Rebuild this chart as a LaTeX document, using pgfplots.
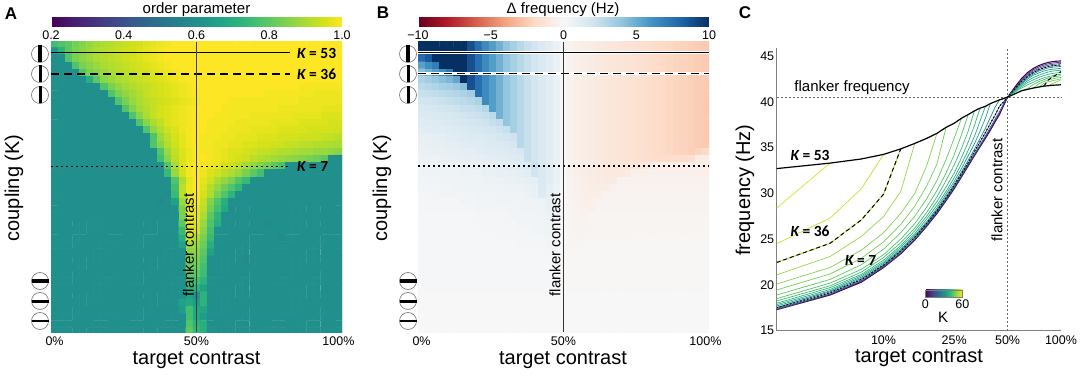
\documentclass[border=0pt]{standalone}
\usepackage{pgfplots}
\pgfplotsset{compat=1.18}
\usepackage{fontspec}
\setmainfont{Liberation Sans}
\newfontfamily\calib{Carlito}
\newcommand\fs[1]{\fontsize{#1}{#1}\selectfont}
\newcommand\kl[1]{{\calib\fs{15.5}\bfseries\itshape K\upshape~=~#1}}
\pgfplotsset{colormap={rdbu}{rgb255=(103,0,31) rgb255=(178,24,43) rgb255=(214,96,77) rgb255=(244,165,130) rgb255=(253,219,199) rgb255=(247,247,247) rgb255=(209,229,240) rgb255=(146,197,222) rgb255=(67,147,195) rgb255=(33,102,172) rgb255=(5,48,97)}}
\definecolor{k50}{RGB}{215,226,40}\definecolor{k44}{RGB}{198,224,40}\definecolor{k36}{RGB}{175,220,50}
\definecolor{k31}{RGB}{150,215,70}\definecolor{k27}{RGB}{130,210,80}\definecolor{k24}{RGB}{115,207,85}
\definecolor{k21}{RGB}{95,200,95}\definecolor{k18}{RGB}{75,195,105}\definecolor{k16}{RGB}{60,188,115}
\definecolor{k14}{RGB}{50,180,122}\definecolor{k12}{RGB}{40,170,130}\definecolor{k10}{RGB}{32,155,137}
\definecolor{k8}{RGB}{35,135,142}\definecolor{k6}{RGB}{45,110,142}\definecolor{k4}{RGB}{60,80,139}
\definecolor{k2}{RGB}{70,45,120}\definecolor{k0}{RGB}{68,1,84}
\pgfplotsset{heat/.style={scale only axis,width=291pt,height=290pt,
  xmin=-0.5,xmax=40.5,ymin=-0.25,ymax=40.1,y dir=reverse,anchor=south west,
  axis line style={draw=none},major tick length=0pt,xtick={0,20,40},xticklabels={0\%,50\%,100\%},ytick=\empty,
  xticklabel style={font=\fs{12.5},yshift=-1pt},clip=true,
  colorbar horizontal},
  table/tab/.style={row sep=\\,header=false,x expr={\coordindex-41*floor((\coordindex+0.5)/41)},y expr={floor((\coordindex+0.5)/41)},meta index=0},
  hm/.style={matrix plot*,mesh/cols=41,point meta=explicit}}
\begin{document}
\begin{tikzpicture}
\useasboundingbox (0,0) rectangle (1084pt,375pt);
%% ---------- panel A
\begin{axis}[heat,at={(51pt,43pt)},colormap/viridis,point meta min=20,point meta max=100,
  colorbar style={at={(0,1.052)},anchor=south west,scale only axis,width=291pt,height=9pt,xtick={20,40,60,80,100},xticklabels={0.2,0.4,0.6,0.8,1.0},
  xticklabel style={font=\fs{12.5},yshift=0pt},major tick length=0pt,axis line style={draw=none},xticklabel pos=lower}]
\addplot[hm] table[tab] {
76\\78\\80\\83\\85\\87\\89\\90\\91\\92\\ 93\\94\\95\\96\\97\\98\\99\\100\\100\\100\\ 100\\100\\100\\100\\100\\100\\100\\100\\100\\100\\ 100\\100\\100\\100\\100\\100\\100\\100\\100\\100\\ 100\\
62\\72\\80\\84\\86\\88\\90\\91\\92\\93\\ 94\\95\\96\\97\\98\\99\\100\\100\\100\\100\\ 100\\100\\100\\100\\100\\100\\100\\100\\100\\100\\ 100\\100\\100\\100\\100\\100\\100\\100\\100\\100\\ 100\\
60\\60\\78\\84\\86\\88\\90\\91\\92\\93\\ 94\\95\\96\\97\\98\\99\\100\\100\\100\\100\\ 100\\100\\100\\100\\100\\100\\100\\100\\100\\100\\ 100\\100\\100\\100\\100\\100\\100\\100\\100\\100\\ 100\\
60\\60\\60\\78\\84\\86\\88\\90\\91\\92\\ 93\\94\\95\\96\\97\\98\\99\\100\\100\\100\\ 100\\100\\100\\100\\100\\100\\100\\100\\100\\100\\ 100\\100\\100\\100\\100\\100\\100\\100\\100\\100\\ 100\\
60\\60\\60\\60\\78\\84\\86\\88\\90\\91\\ 92\\93\\94\\95\\96\\97\\98\\99\\100\\100\\ 100\\100\\100\\100\\100\\100\\100\\100\\100\\100\\ 100\\100\\100\\100\\100\\100\\100\\100\\100\\100\\ 100\\
60\\60\\60\\60\\60\\70\\80\\86\\88\\90\\ 91\\92\\93\\94\\95\\96\\97\\98\\99\\100\\ 100\\100\\100\\100\\100\\100\\100\\100\\100\\100\\ 100\\100\\100\\100\\100\\100\\100\\100\\100\\100\\ 100\\
60\\60\\60\\60\\60\\60\\60\\78\\84\\87\\ 89\\91\\92\\93\\94\\95\\96\\97\\98\\99\\ 100\\100\\100\\100\\100\\100\\100\\100\\100\\100\\ 100\\100\\100\\100\\100\\99\\99\\99\\99\\99\\ 99\\
60\\60\\60\\60\\60\\60\\60\\60\\78\\84\\ 87\\89\\91\\93\\94\\95\\96\\97\\98\\99\\ 100\\100\\100\\100\\100\\100\\100\\100\\100\\100\\ 99\\99\\99\\99\\99\\99\\99\\98\\98\\98\\ 98\\
60\\60\\60\\60\\60\\60\\60\\60\\60\\78\\ 84\\88\\90\\92\\93\\94\\95\\96\\97\\98\\ 99\\100\\100\\100\\100\\99\\99\\99\\99\\99\\ 99\\99\\99\\99\\99\\98\\98\\98\\98\\98\\ 98\\
60\\60\\60\\60\\60\\60\\60\\60\\60\\60\\ 78\\85\\89\\91\\93\\95\\96\\97\\98\\99\\ 100\\100\\100\\100\\99\\99\\99\\99\\99\\99\\ 99\\99\\98\\98\\98\\98\\98\\98\\97\\97\\ 97\\
60\\60\\60\\60\\60\\60\\60\\60\\60\\60\\ 60\\78\\86\\90\\93\\95\\96\\97\\98\\99\\ 100\\100\\100\\99\\99\\99\\99\\99\\98\\98\\ 98\\98\\98\\98\\97\\97\\97\\97\\96\\96\\ 96\\
60\\60\\60\\60\\60\\60\\60\\60\\60\\60\\ 60\\60\\78\\86\\90\\93\\96\\97\\98\\99\\ 100\\100\\99\\99\\99\\99\\98\\98\\98\\98\\ 98\\97\\97\\97\\97\\96\\96\\96\\96\\95\\ 95\\
60\\60\\60\\60\\60\\60\\60\\60\\60\\60\\ 60\\60\\60\\78\\87\\91\\94\\96\\98\\99\\ 100\\100\\99\\99\\99\\98\\98\\98\\97\\97\\ 97\\97\\96\\96\\96\\96\\95\\95\\95\\95\\ 94\\
60\\60\\60\\60\\60\\60\\60\\60\\60\\60\\ 60\\60\\60\\60\\78\\88\\92\\95\\97\\99\\ 100\\99\\99\\99\\98\\98\\97\\97\\97\\96\\ 96\\96\\95\\95\\95\\94\\94\\94\\93\\93\\ 92\\
60\\60\\60\\60\\60\\60\\60\\60\\60\\60\\ 60\\60\\60\\60\\78\\86\\91\\94\\97\\99\\ 100\\99\\99\\98\\98\\97\\97\\96\\96\\95\\ 95\\94\\94\\93\\93\\92\\92\\91\\91\\90\\ 90\\
60\\60\\60\\60\\60\\60\\60\\60\\60\\60\\ 60\\60\\60\\60\\60\\78\\88\\93\\96\\98\\ 100\\99\\99\\98\\97\\96\\96\\95\\94\\93\\ 93\\92\\91\\91\\90\\89\\89\\88\\88\\87\\ 86\\
60\\60\\60\\60\\60\\60\\60\\60\\60\\60\\ 60\\60\\60\\60\\60\\76\\86\\92\\96\\98\\ 100\\100\\99\\98\\97\\96\\95\\94\\92\\91\\ 90\\89\\88\\87\\86\\85\\84\\82\\80\\60\\ 60\\
60\\60\\60\\60\\60\\60\\60\\60\\60\\60\\ 60\\60\\60\\60\\60\\60\\78\\90\\96\\99\\ 100\\99\\98\\97\\95\\94\\92\\89\\87\\85\\ 83\\80\\77\\60\\60\\60\\60\\60\\60\\60\\ 60\\
60\\60\\60\\60\\60\\60\\60\\60\\60\\60\\ 60\\60\\60\\60\\60\\60\\74\\88\\95\\99\\ 100\\98\\96\\94\\92\\90\\88\\84\\80\\76\\ 60\\60\\60\\60\\60\\60\\60\\60\\60\\60\\ 60\\
60\\60\\60\\60\\60\\60\\60\\60\\60\\60\\ 60\\60\\60\\60\\60\\60\\60\\78\\90\\97\\ 100\\97\\94\\90\\87\\84\\78\\74\\60\\60\\ 60\\60\\60\\60\\60\\60\\60\\60\\60\\60\\ 60\\
60\\60\\60\\60\\60\\60\\60\\60\\60\\60\\ 60\\60\\60\\60\\60\\60\\60\\76\\92\\98\\ 100\\96\\91\\87\\82\\78\\73\\60\\60\\60\\ 60\\60\\60\\60\\60\\60\\60\\60\\60\\60\\ 60\\
60\\60\\60\\60\\60\\60\\60\\60\\60\\60\\ 60\\60\\60\\60\\60\\60\\59\\74\\92\\98\\ 100\\95\\90\\84\\78\\72\\60\\60\\60\\60\\ 60\\60\\60\\60\\60\\60\\60\\60\\60\\60\\ 60\\
60\\60\\60\\60\\60\\60\\60\\60\\60\\60\\ 60\\60\\60\\60\\60\\58\\60\\66\\88\\98\\ 99\\93\\85\\78\\70\\60\\60\\60\\60\\60\\ 60\\60\\60\\60\\60\\60\\60\\60\\60\\60\\ 60\\
60\\60\\60\\60\\60\\60\\60\\60\\60\\60\\ 60\\60\\60\\60\\60\\60\\60\\60\\84\\98\\ 98\\92\\83\\76\\68\\59\\60\\60\\60\\60\\ 60\\60\\60\\60\\60\\60\\60\\60\\60\\60\\ 60\\
60\\60\\60\\60\\60\\60\\60\\60\\60\\60\\ 60\\60\\60\\60\\60\\60\\60\\60\\84\\98\\ 97\\90\\80\\72\\60\\60\\60\\60\\60\\60\\ 60\\60\\60\\60\\60\\60\\60\\60\\60\\60\\ 60\\
60\\60\\60\\60\\60\\60\\60\\60\\60\\60\\ 60\\60\\60\\60\\60\\60\\60\\60\\80\\98\\ 96\\88\\78\\70\\60\\60\\60\\60\\60\\60\\ 58\\60\\60\\60\\60\\60\\60\\60\\60\\60\\ 60\\
60\\60\\60\\60\\60\\60\\60\\60\\60\\60\\ 60\\60\\60\\60\\60\\60\\60\\60\\74\\97\\ 95\\86\\76\\60\\60\\60\\60\\60\\60\\60\\ 60\\60\\60\\60\\60\\60\\60\\60\\60\\60\\ 60\\
60\\60\\60\\60\\60\\60\\60\\60\\60\\60\\ 60\\60\\60\\60\\60\\60\\60\\60\\70\\94\\ 90\\84\\74\\60\\60\\60\\60\\60\\60\\60\\ 60\\60\\58\\60\\60\\60\\60\\60\\60\\60\\ 60\\
60\\60\\60\\60\\60\\60\\60\\60\\60\\60\\ 60\\60\\60\\60\\60\\60\\60\\60\\66\\90\\ 88\\82\\70\\60\\60\\60\\60\\60\\60\\60\\ 60\\60\\60\\60\\60\\60\\60\\60\\60\\60\\ 60\\
60\\60\\60\\60\\60\\60\\60\\60\\60\\60\\ 60\\60\\60\\60\\60\\60\\60\\60\\60\\86\\ 86\\80\\66\\60\\60\\60\\60\\60\\60\\60\\ 60\\60\\60\\60\\60\\60\\60\\60\\60\\60\\ 60\\
60\\60\\60\\60\\60\\60\\60\\60\\60\\60\\ 60\\60\\60\\60\\60\\60\\60\\60\\60\\84\\ 84\\78\\60\\60\\60\\60\\60\\58\\60\\60\\ 60\\60\\60\\60\\60\\60\\60\\60\\60\\60\\ 60\\
60\\60\\60\\60\\60\\60\\60\\60\\60\\60\\ 60\\60\\60\\60\\60\\60\\60\\60\\60\\82\\ 82\\76\\60\\60\\60\\60\\60\\60\\60\\60\\ 60\\60\\60\\60\\60\\60\\60\\60\\60\\60\\ 60\\
60\\60\\60\\60\\60\\60\\60\\60\\60\\60\\ 60\\60\\60\\60\\60\\60\\60\\60\\60\\80\\ 80\\75\\60\\60\\60\\60\\60\\60\\60\\60\\ 60\\60\\60\\60\\60\\60\\60\\60\\60\\60\\ 60\\
60\\60\\60\\60\\60\\60\\60\\60\\60\\60\\ 60\\60\\60\\60\\60\\60\\60\\60\\60\\76\\ 76\\72\\60\\60\\60\\60\\60\\60\\60\\60\\ 60\\60\\60\\60\\60\\60\\60\\60\\60\\60\\ 60\\
60\\60\\60\\60\\60\\60\\60\\60\\60\\60\\ 60\\60\\60\\60\\60\\60\\60\\60\\60\\72\\ 72\\66\\60\\60\\60\\60\\60\\60\\60\\60\\ 60\\60\\60\\60\\60\\60\\60\\60\\60\\60\\ 60\\
60\\60\\60\\60\\60\\60\\60\\60\\60\\60\\ 60\\60\\60\\60\\60\\60\\60\\60\\60\\66\\ 60\\72\\60\\60\\60\\60\\60\\60\\60\\60\\ 60\\60\\60\\60\\60\\60\\60\\60\\60\\60\\ 60\\
60\\60\\60\\60\\60\\60\\60\\60\\60\\60\\ 60\\60\\60\\60\\60\\60\\60\\60\\66\\68\\ 64\\72\\60\\60\\60\\60\\60\\60\\60\\60\\ 60\\60\\60\\60\\60\\60\\60\\60\\60\\60\\ 60\\
60\\60\\60\\60\\60\\60\\60\\60\\60\\60\\ 60\\60\\60\\60\\60\\60\\60\\60\\64\\76\\ 68\\67\\60\\60\\60\\60\\60\\60\\60\\60\\ 60\\60\\60\\60\\60\\60\\60\\60\\60\\60\\ 60\\
60\\60\\60\\60\\60\\60\\60\\60\\60\\60\\ 60\\60\\60\\60\\60\\60\\60\\60\\60\\76\\ 68\\64\\60\\60\\60\\60\\60\\60\\60\\60\\ 60\\60\\60\\60\\60\\60\\60\\60\\60\\60\\ 60\\
60\\60\\60\\60\\60\\60\\60\\60\\60\\60\\ 60\\60\\60\\60\\60\\60\\60\\60\\60\\78\\ 72\\70\\60\\60\\60\\60\\60\\60\\60\\60\\ 60\\60\\60\\60\\60\\60\\60\\60\\60\\60\\ 60\\
60\\60\\60\\60\\60\\60\\60\\60\\60\\60\\ 60\\60\\60\\60\\60\\60\\60\\60\\60\\80\\ 74\\70\\60\\60\\60\\60\\60\\60\\60\\60\\ 60\\60\\60\\60\\60\\60\\60\\60\\60\\60\\ 60\\
};
\addplot[black,line width=1.4pt] coordinates {(-0.5,1.24)(33.2,1.24)};
\addplot[black,line width=1.3pt,dash pattern=on 8pt off 5pt] coordinates {(-0.5,4.2)(33.2,4.2)};
\addplot[black,line width=1.3pt,dash pattern=on 2pt off 3pt] coordinates {(-0.5,17.07)(33.2,17.07)};
\addplot[black!75,line width=0.9pt] coordinates {(20,-0.25)(20,40.1)};
\end{axis}
%% ---------- panel B
\begin{axis}[heat,at={(418pt,43pt)},colormap name=rdbu,point meta min=-100,point meta max=100,
  colorbar style={at={(0,1.052)},anchor=south west,scale only axis,width=291pt,height=9pt,xtick={-100,-50,0,50,100},xticklabels={−10,−5,0,5,10},
  xticklabel style={font=\fs{12.5},yshift=0pt},major tick length=0pt,axis line style={draw=none},xticklabel pos=lower}]
\addplot[hm] table[tab] {
100\\100\\100\\100\\100\\100\\100\\88\\76\\64\\ 56\\48\\40\\34\\28\\23\\19\\15\\11\\7\\ 2\\-4\\-6\\-7\\-8\\-10\\-11\\-12\\-13\\-14\\ -15\\-16\\-17\\-19\\-20\\-21\\-22\\-23\\-24\\-25\\ -26\\
100\\100\\100\\100\\100\\100\\100\\88\\76\\64\\ 56\\48\\40\\34\\28\\23\\19\\15\\11\\7\\ 2\\-4\\-6\\-7\\-8\\-10\\-11\\-12\\-13\\-14\\ -15\\-16\\-17\\-19\\-20\\-21\\-22\\-23\\-24\\-25\\ -26\\
78\\85\\100\\100\\100\\100\\100\\88\\76\\64\\ 56\\48\\40\\34\\28\\23\\19\\15\\11\\7\\ 0\\-4\\-6\\-7\\-8\\-10\\-11\\-12\\-13\\-14\\ -15\\-16\\-17\\-19\\-20\\-21\\-22\\-23\\-24\\-25\\ -26\\
55\\62\\70\\100\\100\\100\\100\\88\\76\\64\\ 56\\48\\40\\34\\28\\23\\19\\15\\11\\7\\ 0\\-4\\-6\\-7\\-8\\-10\\-11\\-12\\-13\\-14\\ -15\\-16\\-17\\-19\\-20\\-21\\-22\\-23\\-24\\-25\\ -26\\
42\\48\\55\\62\\72\\100\\100\\88\\76\\64\\ 56\\48\\40\\34\\28\\23\\19\\15\\11\\7\\ 0\\-4\\-6\\-7\\-8\\-10\\-11\\-12\\-13\\-14\\ -15\\-16\\-17\\-19\\-20\\-21\\-22\\-23\\-24\\-25\\ -26\\
32\\35\\38\\42\\46\\52\\100\\88\\76\\64\\ 56\\48\\40\\34\\28\\23\\19\\15\\11\\7\\ 0\\-4\\-6\\-7\\-8\\-10\\-11\\-12\\-13\\-14\\ -15\\-16\\-17\\-19\\-20\\-21\\-22\\-23\\-24\\-25\\ -26\\
27\\29\\31\\33\\35\\38\\42\\88\\76\\64\\ 56\\48\\40\\34\\28\\23\\19\\15\\11\\7\\ 0\\-4\\-6\\-7\\-8\\-10\\-11\\-12\\-13\\-14\\ -15\\-16\\-17\\-19\\-20\\-21\\-22\\-23\\-24\\-25\\ -26\\
23\\24\\25\\27\\28\\30\\32\\35\\76\\64\\ 56\\48\\40\\34\\28\\23\\19\\15\\11\\7\\ 0\\-4\\-6\\-7\\-8\\-10\\-11\\-12\\-13\\-14\\ -15\\-16\\-17\\-19\\-20\\-21\\-22\\-23\\-24\\-25\\ -26\\
19\\20\\21\\22\\24\\25\\27\\29\\32\\64\\ 56\\48\\40\\34\\28\\23\\19\\15\\11\\7\\ 0\\-4\\-6\\-7\\-8\\-10\\-11\\-12\\-13\\-14\\ -15\\-16\\-17\\-19\\-20\\-21\\-22\\-23\\-24\\-25\\ -26\\
16\\17\\18\\19\\20\\21\\23\\24\\26\\29\\ 56\\48\\40\\34\\28\\23\\19\\15\\11\\7\\ 0\\-4\\-6\\-7\\-8\\-10\\-11\\-12\\-13\\-14\\ -15\\-16\\-17\\-19\\-20\\-21\\-22\\-23\\-24\\-25\\ -26\\
14\\15\\15\\16\\17\\18\\19\\21\\22\\24\\ 27\\48\\40\\34\\28\\23\\19\\15\\11\\7\\ 0\\-4\\-6\\-7\\-8\\-10\\-11\\-12\\-13\\-14\\ -15\\-16\\-17\\-19\\-20\\-21\\-22\\-23\\-24\\-25\\ -26\\
12\\13\\13\\14\\15\\16\\17\\18\\19\\21\\ 23\\25\\40\\34\\28\\23\\19\\15\\11\\7\\ 0\\-4\\-6\\-7\\-8\\-10\\-11\\-12\\-13\\-14\\ -15\\-16\\-17\\-19\\-20\\-21\\-22\\-23\\-24\\-25\\ -26\\
11\\11\\12\\12\\13\\14\\15\\16\\17\\18\\ 19\\21\\23\\34\\28\\23\\19\\15\\11\\7\\ 0\\-4\\-6\\-7\\-8\\-10\\-11\\-12\\-13\\-14\\ -15\\-16\\-17\\-19\\-20\\-21\\-22\\-23\\-24\\-25\\ -26\\
9\\9\\10\\10\\11\\12\\13\\14\\14\\15\\ 16\\18\\19\\21\\28\\23\\19\\15\\11\\7\\ 0\\-4\\-6\\-7\\-8\\-10\\-11\\-12\\-13\\-14\\ -15\\-16\\-17\\-19\\-20\\-21\\-22\\-23\\-24\\-25\\ -26\\
8\\8\\9\\9\\10\\10\\11\\12\\12\\13\\ 14\\15\\16\\18\\28\\23\\19\\15\\11\\7\\ 0\\-4\\-6\\-7\\-8\\-10\\-11\\-12\\-13\\-14\\ -15\\-16\\-17\\-19\\-20\\-21\\-22\\-23\\-24\\-25\\ -26\\
7\\7\\8\\8\\9\\9\\10\\10\\11\\12\\ 12\\13\\14\\15\\17\\23\\19\\15\\11\\7\\ 0\\-4\\-6\\-7\\-8\\-10\\-11\\-12\\-13\\-14\\ -15\\-16\\-17\\-19\\-20\\-21\\-22\\-23\\-24\\-22\\ -20\\
6\\6\\6\\7\\7\\8\\8\\9\\9\\10\\ 11\\11\\12\\13\\14\\23\\19\\15\\11\\7\\ 0\\-4\\-6\\-7\\-8\\-10\\-11\\-12\\-13\\-14\\ -15\\-16\\-17\\-18\\-18\\-18\\-18\\-18\\-17\\-7\\ -7\\
5\\5\\5\\6\\6\\6\\7\\7\\8\\8\\ 9\\9\\10\\11\\12\\13\\22\\15\\11\\7\\ 0\\-4\\-6\\-7\\-8\\-10\\-11\\-12\\-12\\-12\\ -12\\-11\\-10\\-6\\-6\\-6\\-6\\-6\\-6\\-6\\ -6\\
4\\4\\4\\5\\5\\5\\6\\6\\6\\7\\ 7\\8\\8\\9\\10\\11\\20\\15\\11\\7\\ 0\\-4\\-6\\-7\\-8\\-9\\-10\\-10\\-10\\-9\\ -5\\-5\\-5\\-5\\-5\\-5\\-5\\-5\\-5\\-5\\ -5\\
3\\3\\3\\4\\4\\4\\5\\5\\5\\6\\ 6\\6\\7\\7\\8\\9\\10\\15\\11\\7\\ 0\\-3\\-5\\-6\\-7\\-8\\-9\\-8\\-4\\-4\\ -4\\-4\\-4\\-4\\-4\\-4\\-4\\-4\\-4\\-4\\ -4\\
3\\3\\3\\3\\3\\4\\4\\4\\4\\5\\ 5\\5\\6\\6\\6\\7\\8\\14\\10\\6\\ 0\\-3\\-5\\-6\\-7\\-7\\-7\\-4\\-4\\-4\\ -4\\-4\\-4\\-4\\-4\\-4\\-4\\-4\\-4\\-4\\ -4\\
2\\2\\2\\3\\3\\3\\3\\3\\4\\4\\ 4\\4\\5\\5\\5\\6\\7\\13\\9\\5\\ 0\\-3\\-4\\-6\\-6\\-6\\-3\\-3\\-3\\-3\\ -3\\-3\\-3\\-3\\-3\\-3\\-3\\-3\\-3\\-3\\ -3\\
2\\2\\2\\2\\2\\2\\3\\3\\3\\3\\ 3\\4\\4\\4\\4\\5\\5\\6\\8\\5\\ 0\\-3\\-4\\-5\\-5\\-3\\-3\\-3\\-3\\-3\\ -3\\-3\\-3\\-3\\-3\\-3\\-3\\-3\\-3\\-3\\ -3\\
2\\2\\2\\2\\2\\2\\2\\2\\3\\3\\ 3\\3\\3\\3\\4\\4\\4\\5\\7\\4\\ 0\\-2\\-3\\-4\\-5\\-3\\-3\\-3\\-3\\-3\\ -3\\-3\\-3\\-3\\-3\\-3\\-3\\-3\\-3\\-3\\ -3\\
1\\1\\1\\1\\1\\1\\1\\1\\2\\2\\ 2\\2\\2\\3\\3\\3\\3\\4\\6\\3\\ 0\\-2\\-3\\-4\\-2\\-2\\-2\\-2\\-2\\-2\\ -2\\-2\\-2\\-2\\-2\\-2\\-2\\-2\\-2\\-2\\ -2\\
1\\1\\1\\1\\1\\1\\1\\1\\1\\2\\ 2\\2\\2\\2\\3\\3\\3\\3\\5\\3\\ 0\\-2\\-3\\-3\\-2\\-2\\-2\\-2\\-2\\-2\\ -2\\-2\\-2\\-2\\-2\\-2\\-2\\-2\\-2\\-2\\ -2\\
1\\1\\1\\1\\1\\1\\1\\1\\1\\1\\ 2\\2\\2\\2\\2\\2\\3\\3\\4\\2\\ 0\\-2\\-3\\-2\\-2\\-2\\-2\\-2\\-2\\-2\\ -2\\-2\\-2\\-2\\-2\\-2\\-2\\-2\\-2\\-2\\ -2\\
1\\1\\1\\1\\1\\1\\1\\1\\1\\1\\ 1\\1\\2\\2\\2\\2\\2\\2\\3\\2\\ 0\\-2\\-2\\-2\\-2\\-2\\-2\\-2\\-2\\-2\\ -1\\-1\\-1\\-1\\-1\\-1\\-1\\-1\\-1\\-1\\ -1\\
1\\1\\1\\1\\1\\1\\1\\1\\1\\1\\ 1\\1\\1\\1\\2\\2\\2\\2\\3\\2\\ 0\\-2\\-2\\-1\\-1\\-1\\-1\\-1\\-1\\-1\\ -1\\-1\\-1\\-1\\-1\\-1\\-1\\-1\\-1\\-1\\ -1\\
1\\1\\1\\1\\1\\1\\1\\1\\1\\1\\ 1\\1\\1\\1\\1\\1\\1\\1\\2\\2\\ 0\\-1\\-1\\-1\\-1\\-1\\-1\\-1\\-1\\-1\\ -1\\-1\\-1\\-1\\-1\\-1\\-1\\-1\\-1\\-1\\ -1\\
1\\1\\1\\1\\1\\1\\1\\1\\1\\1\\ 1\\1\\1\\1\\1\\1\\1\\1\\1\\2\\ 0\\-1\\-1\\-1\\-1\\-1\\-1\\-1\\-1\\-1\\ -1\\-1\\-1\\-1\\-1\\-1\\-1\\-1\\-1\\-1\\ -1\\
1\\1\\1\\1\\1\\1\\1\\1\\1\\1\\ 1\\1\\1\\1\\1\\1\\1\\1\\1\\1\\ 0\\-1\\-1\\-1\\-1\\-1\\-1\\-1\\-1\\-1\\ -1\\-1\\-1\\-1\\-1\\-1\\-1\\-1\\-1\\-1\\ -1\\
1\\1\\1\\1\\1\\1\\1\\1\\1\\1\\ 1\\1\\1\\1\\1\\1\\1\\1\\1\\1\\ 0\\-1\\-1\\-1\\-1\\-1\\-1\\-1\\-1\\-1\\ -1\\-1\\-1\\-1\\-1\\-1\\-1\\-1\\-1\\-1\\ -1\\
1\\1\\1\\1\\1\\1\\1\\1\\1\\1\\ 1\\1\\1\\1\\1\\1\\1\\1\\1\\1\\ 0\\-1\\-1\\-1\\-1\\-1\\-1\\-1\\-1\\-1\\ -1\\-1\\-1\\-1\\-1\\-1\\-1\\-1\\-1\\-1\\ -1\\
1\\1\\1\\1\\1\\1\\1\\1\\1\\1\\ 1\\1\\1\\1\\1\\1\\1\\1\\1\\1\\ 0\\-1\\-1\\-1\\-1\\-1\\-1\\-1\\-1\\-1\\ -1\\-1\\-1\\-1\\-1\\-1\\-1\\-1\\-1\\-1\\ -1\\
0\\0\\0\\0\\0\\0\\0\\0\\0\\0\\ 0\\0\\0\\0\\0\\0\\0\\0\\0\\0\\ 0\\0\\0\\0\\0\\0\\0\\0\\0\\0\\ 0\\0\\0\\0\\0\\0\\0\\0\\0\\0\\ 0\\
0\\0\\0\\0\\0\\0\\0\\0\\0\\0\\ 0\\0\\0\\0\\0\\0\\0\\0\\0\\0\\ 0\\0\\0\\0\\0\\0\\0\\0\\0\\0\\ 0\\0\\0\\0\\0\\0\\0\\0\\0\\0\\ 0\\
0\\0\\0\\0\\0\\0\\0\\0\\0\\0\\ 0\\0\\0\\0\\0\\0\\0\\0\\0\\0\\ 0\\0\\0\\0\\0\\0\\0\\0\\0\\0\\ 0\\0\\0\\0\\0\\0\\0\\0\\0\\0\\ 0\\
0\\0\\0\\0\\0\\0\\0\\0\\0\\0\\ 0\\0\\0\\0\\0\\0\\0\\0\\0\\0\\ 0\\0\\0\\0\\0\\0\\0\\0\\0\\0\\ 0\\0\\0\\0\\0\\0\\0\\0\\0\\0\\ 0\\
0\\0\\0\\0\\0\\0\\0\\0\\0\\0\\ 0\\0\\0\\0\\0\\0\\0\\0\\0\\0\\ 0\\0\\0\\0\\0\\0\\0\\0\\0\\0\\ 0\\0\\0\\0\\0\\0\\0\\0\\0\\0\\ 0\\
0\\0\\0\\0\\0\\0\\0\\0\\0\\0\\ 0\\0\\0\\0\\0\\0\\0\\0\\0\\0\\ 0\\0\\0\\0\\0\\0\\0\\0\\0\\0\\ 0\\0\\0\\0\\0\\0\\0\\0\\0\\0\\ 0\\
0\\0\\0\\0\\0\\0\\0\\0\\0\\0\\ 0\\0\\0\\0\\0\\0\\0\\0\\0\\0\\ 0\\0\\0\\0\\0\\0\\0\\0\\0\\0\\ 0\\0\\0\\0\\0\\0\\0\\0\\0\\0\\ 0\\
};
\addplot[white,line width=2.6pt] coordinates {(-0.5,1.21)(40.5,1.21)};
\addplot[black,line width=1.4pt] coordinates {(-0.5,1.21)(40.5,1.21)};
\addplot[white,line width=2.6pt] coordinates {(-0.5,4.1)(40.5,4.1)};
\addplot[black,line width=1.3pt,dash pattern=on 8pt off 5pt] coordinates {(-0.5,4.1)(40.5,4.1)};
\addplot[white,line width=2.4pt,dash pattern=on 2pt off 3pt] coordinates {(-0.5,17)(40.5,17)};
\addplot[black,line width=1.3pt,dash pattern=on 2pt off 3pt] coordinates {(-0.5,17)(40.5,17)};
\addplot[black!80,line width=0.9pt] coordinates {(20,-0.25)(20,40.1)};
\end{axis}
%% ---------- panel C
\begin{axis}[scale only axis,at={(776.7pt,44.3pt)},anchor=south west,width=284.3pt,height=283pt,
  xmode=log,xmin=2.5,xmax=100,ymin=15,ymax=45.9,axis x line=bottom,axis y line=left,
  axis line style={-,draw=black!50,line width=0.8pt},major tick length=0pt,minor tick length=0pt,minor tick num=0,clip=false,
  xtick={10,25,50,100},xticklabels={10\%,25\%,50\%,100\%},ytick={15,20,25,30,35,40,45},yticklabels={15,20,25,30,35,40,45},
  xticklabel style={font=\fs{12.5},yshift=-2pt},yticklabel style={font=\fs{12.5},xshift=1pt},
  colormap/viridis,point meta min=0,point meta max=60,colorbar horizontal,
  colorbar style={at={(0.5227,0.118)},anchor=south west,scale only axis,width=37pt,height=7.5pt,xtick={0,60},xticklabels={0,60},
  xticklabel style={font=\fs{12.5},yshift=1pt},major tick length=0pt,axis line style={draw=black!50,line width=0.6pt},xticklabel pos=lower}]
\addplot[black!60,line width=0.8pt,dash pattern=on 2pt off 2pt] coordinates {(2.5,40.5)(100,40.5)};
\addplot[black!60,line width=0.8pt,dash pattern=on 2pt off 2pt] coordinates {(50,15)(50,45.9)};
\addplot[k0,line width=1.1pt] coordinates {(2.5,17.3)(5,18.9)(7.5,20.3)(10,21.9)(12.5,23.4)(15,24.9)(17.5,26.4)(20,27.8)(22.5,29.2)(25,30.5)(27.5,31.8)(30,33)(32.5,34.1)(35,35.1)(37.5,36)(40,36.9)(42.5,37.8)(45,38.6)(47.5,39.6)(50,40.5)(55,41.6)(60,42.55)(65,43.2)(70,43.65)(75,43.95)(80,44.15)(85,44.3)(90,44.38)(95,44.43)(100,44.45)};
\addplot[k2,line width=0.7pt] coordinates {(2.5,17.32)(5,18.95)(7.5,20.38)(10,21.95)(12.5,23.45)(15,24.95)(17.5,26.45)(20,27.9)(22.5,29.25)(25,30.55)(27.5,31.85)(30,33.05)(32.5,34.15)(35,35.15)(37.5,36.1)(40,37)(42.5,37.9)(45,38.7)(47.5,39.7)(50,40.5)(55,41.5)(60,42.4)(65,43.05)(70,43.5)(75,43.8)(80,44)(85,44.15)(90,44.22)(95,44.28)(100,44.32)};
\addplot[k4,line width=0.7pt] coordinates {(2.5,17.35)(5,19)(7.5,20.45)(10,22)(12.5,23.5)(15,25)(17.5,26.5)(20,27.95)(22.5,29.35)(25,30.65)(27.5,31.95)(30,33.15)(32.5,34.25)(35,35.3)(37.5,36.25)(40,37.2)(42.5,38.1)(45,38.9)(47.5,39.8)(50,40.5)(55,41.45)(60,42.3)(65,42.95)(70,43.35)(75,43.65)(80,43.85)(85,44)(90,44.08)(95,44.13)(100,44.18)};
\addplot[k6,line width=0.7pt] coordinates {(2.5,17.45)(5,19.1)(7.5,20.55)(10,22.1)(12.5,23.65)(15,25.15)(17.5,26.65)(20,28.05)(22.5,29.45)(25,30.8)(27.5,32.1)(30,33.3)(32.5,34.5)(35,35.6)(37.5,36.6)(40,37.6)(42.5,38.5)(45,39.5)(47.5,40)(50,40.5)(55,41.4)(60,42.2)(65,42.8)(70,43.2)(75,43.5)(80,43.7)(85,43.85)(90,43.93)(95,43.98)(100,44.02)};
\addplot[k8,line width=0.7pt] coordinates {(2.5,17.55)(5,19.25)(7.5,20.7)(10,22.2)(12.5,23.75)(15,25.25)(17.5,26.75)(20,28.2)(22.5,29.65)(25,31)(27.5,32.35)(30,33.6)(32.5,34.8)(35,36)(37.5,37.1)(40,38.3)(42.5,39.4)(45,40.2)(50,40.5)(55,41.3)(60,42.05)(65,42.65)(70,43.05)(75,43.35)(80,43.55)(85,43.7)(90,43.77)(95,43.82)(100,43.85)};
\addplot[k10,line width=0.7pt] coordinates {(2.5,17.7)(5,19.35)(7.5,20.85)(10,22.35)(12.5,23.9)(15,25.4)(17.5,26.9)(20,28.4)(22.5,29.9)(25,31.3)(27.5,32.7)(30,34.1)(32.5,35.4)(35,36.8)(37.5,38.2)(40,39.8)};
\addplot[k10,line width=0.7pt] coordinates {(50,40.5)(55,41.25)(60,41.95)(65,42.5)(70,42.9)(75,43.15)(80,43.35)(85,43.48)(90,43.55)(95,43.6)(100,43.65)};
\addplot[k12,line width=0.7pt] coordinates {(2.5,17.85)(5,19.5)(7.5,21)(10,22.5)(12.5,24.1)(15,25.6)(17.5,27.2)(20,28.7)(22.5,30.2)(25,31.7)(27.5,33.2)(30,34.7)(32.5,36.2)(35,37.9)(37.5,39.5)};
\addplot[k12,line width=0.7pt] coordinates {(50,40.5)(55,41.2)(60,41.8)(65,42.3)(70,42.65)(75,42.9)(80,43.1)(85,43.25)(90,43.35)(95,43.4)(100,43.45)};
\addplot[k14,line width=0.7pt] coordinates {(2.5,18)(5,19.7)(7.5,21.15)(10,22.7)(12.5,24.3)(15,25.9)(17.5,27.5)(20,29.1)(22.5,30.7)(25,32.2)(27.5,33.9)(30,35.6)(32.5,37.4)(35,39.3)};
\addplot[k14,line width=0.7pt] coordinates {(50,40.5)(55,41.1)(60,41.65)(65,42.1)(70,42.4)(75,42.65)(80,42.85)(85,43)(90,43.1)(95,43.15)(100,43.2)};
\addplot[k16,line width=0.7pt] coordinates {(2.5,18.25)(5,19.9)(7.5,21.4)(10,23)(12.5,24.6)(15,26.2)(17.5,27.9)(20,29.6)(22.5,31.4)(25,33.1)(27.5,34.9)(30,36.8)(32.5,39)};
\addplot[k16,line width=0.7pt] coordinates {(50,40.5)(55,41.05)(60,41.5)(65,41.85)(70,42.15)(75,42.4)(80,42.6)(85,42.75)(90,42.85)(95,42.95)(100,43)};
\addplot[k18,line width=0.7pt] coordinates {(2.5,18.5)(5,20.2)(7.5,21.7)(10,23.3)(12.5,25)(15,26.7)(17.5,28.5)(20,30.3)(22.5,32.2)(25,34.2)(27.5,36.4)(30,38.6)};
\addplot[k18,line width=0.7pt] coordinates {(60,41.2)(65,41.45)(70,41.9)(75,42.2)(80,42.4)(85,42.6)(90,42.7)(95,42.78)(100,42.85)};
\addplot[k21,line width=0.7pt] coordinates {(2.5,18.9)(5,20.6)(7.5,22.2)(10,23.9)(12.5,25.7)(15,27.5)(17.5,29.4)(20,31.4)(22.5,33.7)(25,36)(27.5,38.2)};
\addplot[k21,line width=0.7pt] coordinates {(70,41.5)(75,41.95)(80,42.2)(85,42.4)(90,42.5)(95,42.6)(100,42.65)};
\addplot[k24,line width=0.7pt] coordinates {(2.5,19.45)(5,21.2)(7.5,22.9)(10,24.7)(12.5,26.6)(15,28.6)(17.5,30.8)(20,33.2)(22.5,37.2)};
\addplot[k24,line width=0.7pt] coordinates {(75,41.6)(80,42)(85,42.2)(90,42.3)(95,42.4)(100,42.5)};
\addplot[k27,line width=0.7pt] coordinates {(2.5,20.1)(5,21.9)(7.5,23.8)(10,25.7)(12.5,27.8)(15,30)(17.5,33)(20,36.55)};
\addplot[k27,line width=0.7pt] coordinates {(85,41.75)(90,42)(95,42.2)(100,42.4)};
\addplot[k31,line width=0.7pt] coordinates {(2.5,21.1)(5,23.1)(7.5,25.3)(10,27.45)(12.5,30.2)(15,35.45)};
\addplot[k36,line width=0.9pt] coordinates {(2.5,22.45)(5,24.55)(7.5,27.1)(10,29.9)(12.5,34.85)};
\addplot[k44,line width=0.7pt] coordinates {(2.5,24.5)(5,27.3)(7.5,30.5)(10,34.25)};
\addplot[k50,line width=0.7pt] coordinates {(2.5,28.4)(5,33.3)};
\addplot[black,line width=1pt,dash pattern=on 4pt off 3pt] coordinates {(2.5,22.45)(5,24.55)(7.5,27.1)(10,29.9)(12.5,34.85)};
\addplot[black,line width=1pt,dash pattern=on 4pt off 3pt] coordinates {(80,41.7)(85,42.4)(90,42.7)(95,43)(100,43.3)};
\addplot[black,line width=1pt,dash pattern=on 1.5pt off 2pt] coordinates {(2.5,17.5)(5,19.15)(7.5,20.6)(10,22.15)(12.5,23.7)(15,25.2)(17.5,26.7)(20,28.1)(22.5,29.5)(25,30.85)(27.5,32.15)(30,33.35)(32.5,34.55)(35,35.65)(37.5,36.65)(40,37.65)(42.5,38.55)(45,39.5)(47.5,40)(50,40.5)(55,41.4)(60,42.2)(65,42.8)(70,43.2)(75,43.5)(80,43.7)(85,43.85)(90,43.93)(95,43.98)(100,44.02)};
\addplot[black,line width=1.2pt] coordinates {(2.5,32.7)(5,33.3)(7.5,33.75)(10,34.25)(12.5,34.85)(15,35.45)(17.5,36)(20,36.55)(22.5,37.2)(25,37.65)(27.5,38.2)(30,38.6)(32.5,39)(35,39.3)(37.5,39.5)(40,39.8)(45,40.2)(50,40.5)(60,41.2)(70,41.5)(80,41.7)(90,41.8)(100,41.85)};
\end{axis}
%% ---------- texts and icons
\node[font=\fs{17}\bfseries] at (11pt,361pt) {A};
\node[font=\fs{17}\bfseries] at (383pt,362pt) {B};
\node[font=\fs{17}\bfseries] at (745pt,362pt) {C};
\node[font=\fs{15}] at (196.5pt,365pt) {order parameter};
\node[font=\fs{15}] at (563pt,365pt) {Δ frequency (Hz)};
\node[font=\fs{20}] at (196.5pt,15pt) {target contrast};
\node[font=\fs{20}] at (563pt,15pt) {target contrast};
\node[font=\fs{20}] at (919pt,17pt) {target contrast};
\node[font=\fs{20},rotate=90] at (14pt,187pt) {coupling (K)};
\node[font=\fs{20},rotate=90] at (382pt,187pt) {coupling (K)};
\node[font=\fs{20},rotate=90] at (745pt,185pt) {frequency (Hz)};
\node[font=\fs{15},rotate=90] at (188.5pt,130pt) {flanker contrast};
\node[font=\fs{15},rotate=90] at (555pt,130pt) {flanker contrast};
\node[font=\fs{15},rotate=90] at (997pt,185pt) {flanker contrast};
\node[anchor=west,inner sep=0pt] at (297pt,322pt) {\kl{53}};
\node[anchor=west,inner sep=0pt] at (297pt,301pt) {\kl{36}};
\node[anchor=west,inner sep=0pt] at (297pt,208.5pt) {\kl{7}};
\node at (810pt,219.3pt) {\kl{53}};
\node at (810pt,143.3pt) {\kl{36}};
\node at (860.7pt,115pt) {\kl{7}};
\node[font=\fs{15}] at (852pt,287.3pt) {flanker frequency};
\node[font=\fs{15}] at (943pt,58pt) {K};
\foreach \xx in {40pt,408pt}{
 \foreach \yy/\w in {321/3.5,301/3,280/3}{
  \draw[black!50,line width=0.7pt,fill=white] (\xx,\yy pt) circle (8.5pt);
  \draw[black,line width=\w pt] (\xx,\yy pt-8.5pt) -- (\xx,\yy pt+8.5pt);}
 \foreach \yy/\w in {94/4,74/3,54/2}{
  \draw[black!50,line width=0.7pt,fill=white] (\xx,\yy pt) circle (8.5pt);
  \draw[black,line width=\w pt] (\xx-8.5pt,\yy pt) -- (\xx+8.5pt,\yy pt);}
}
\end{tikzpicture}
\end{document}
